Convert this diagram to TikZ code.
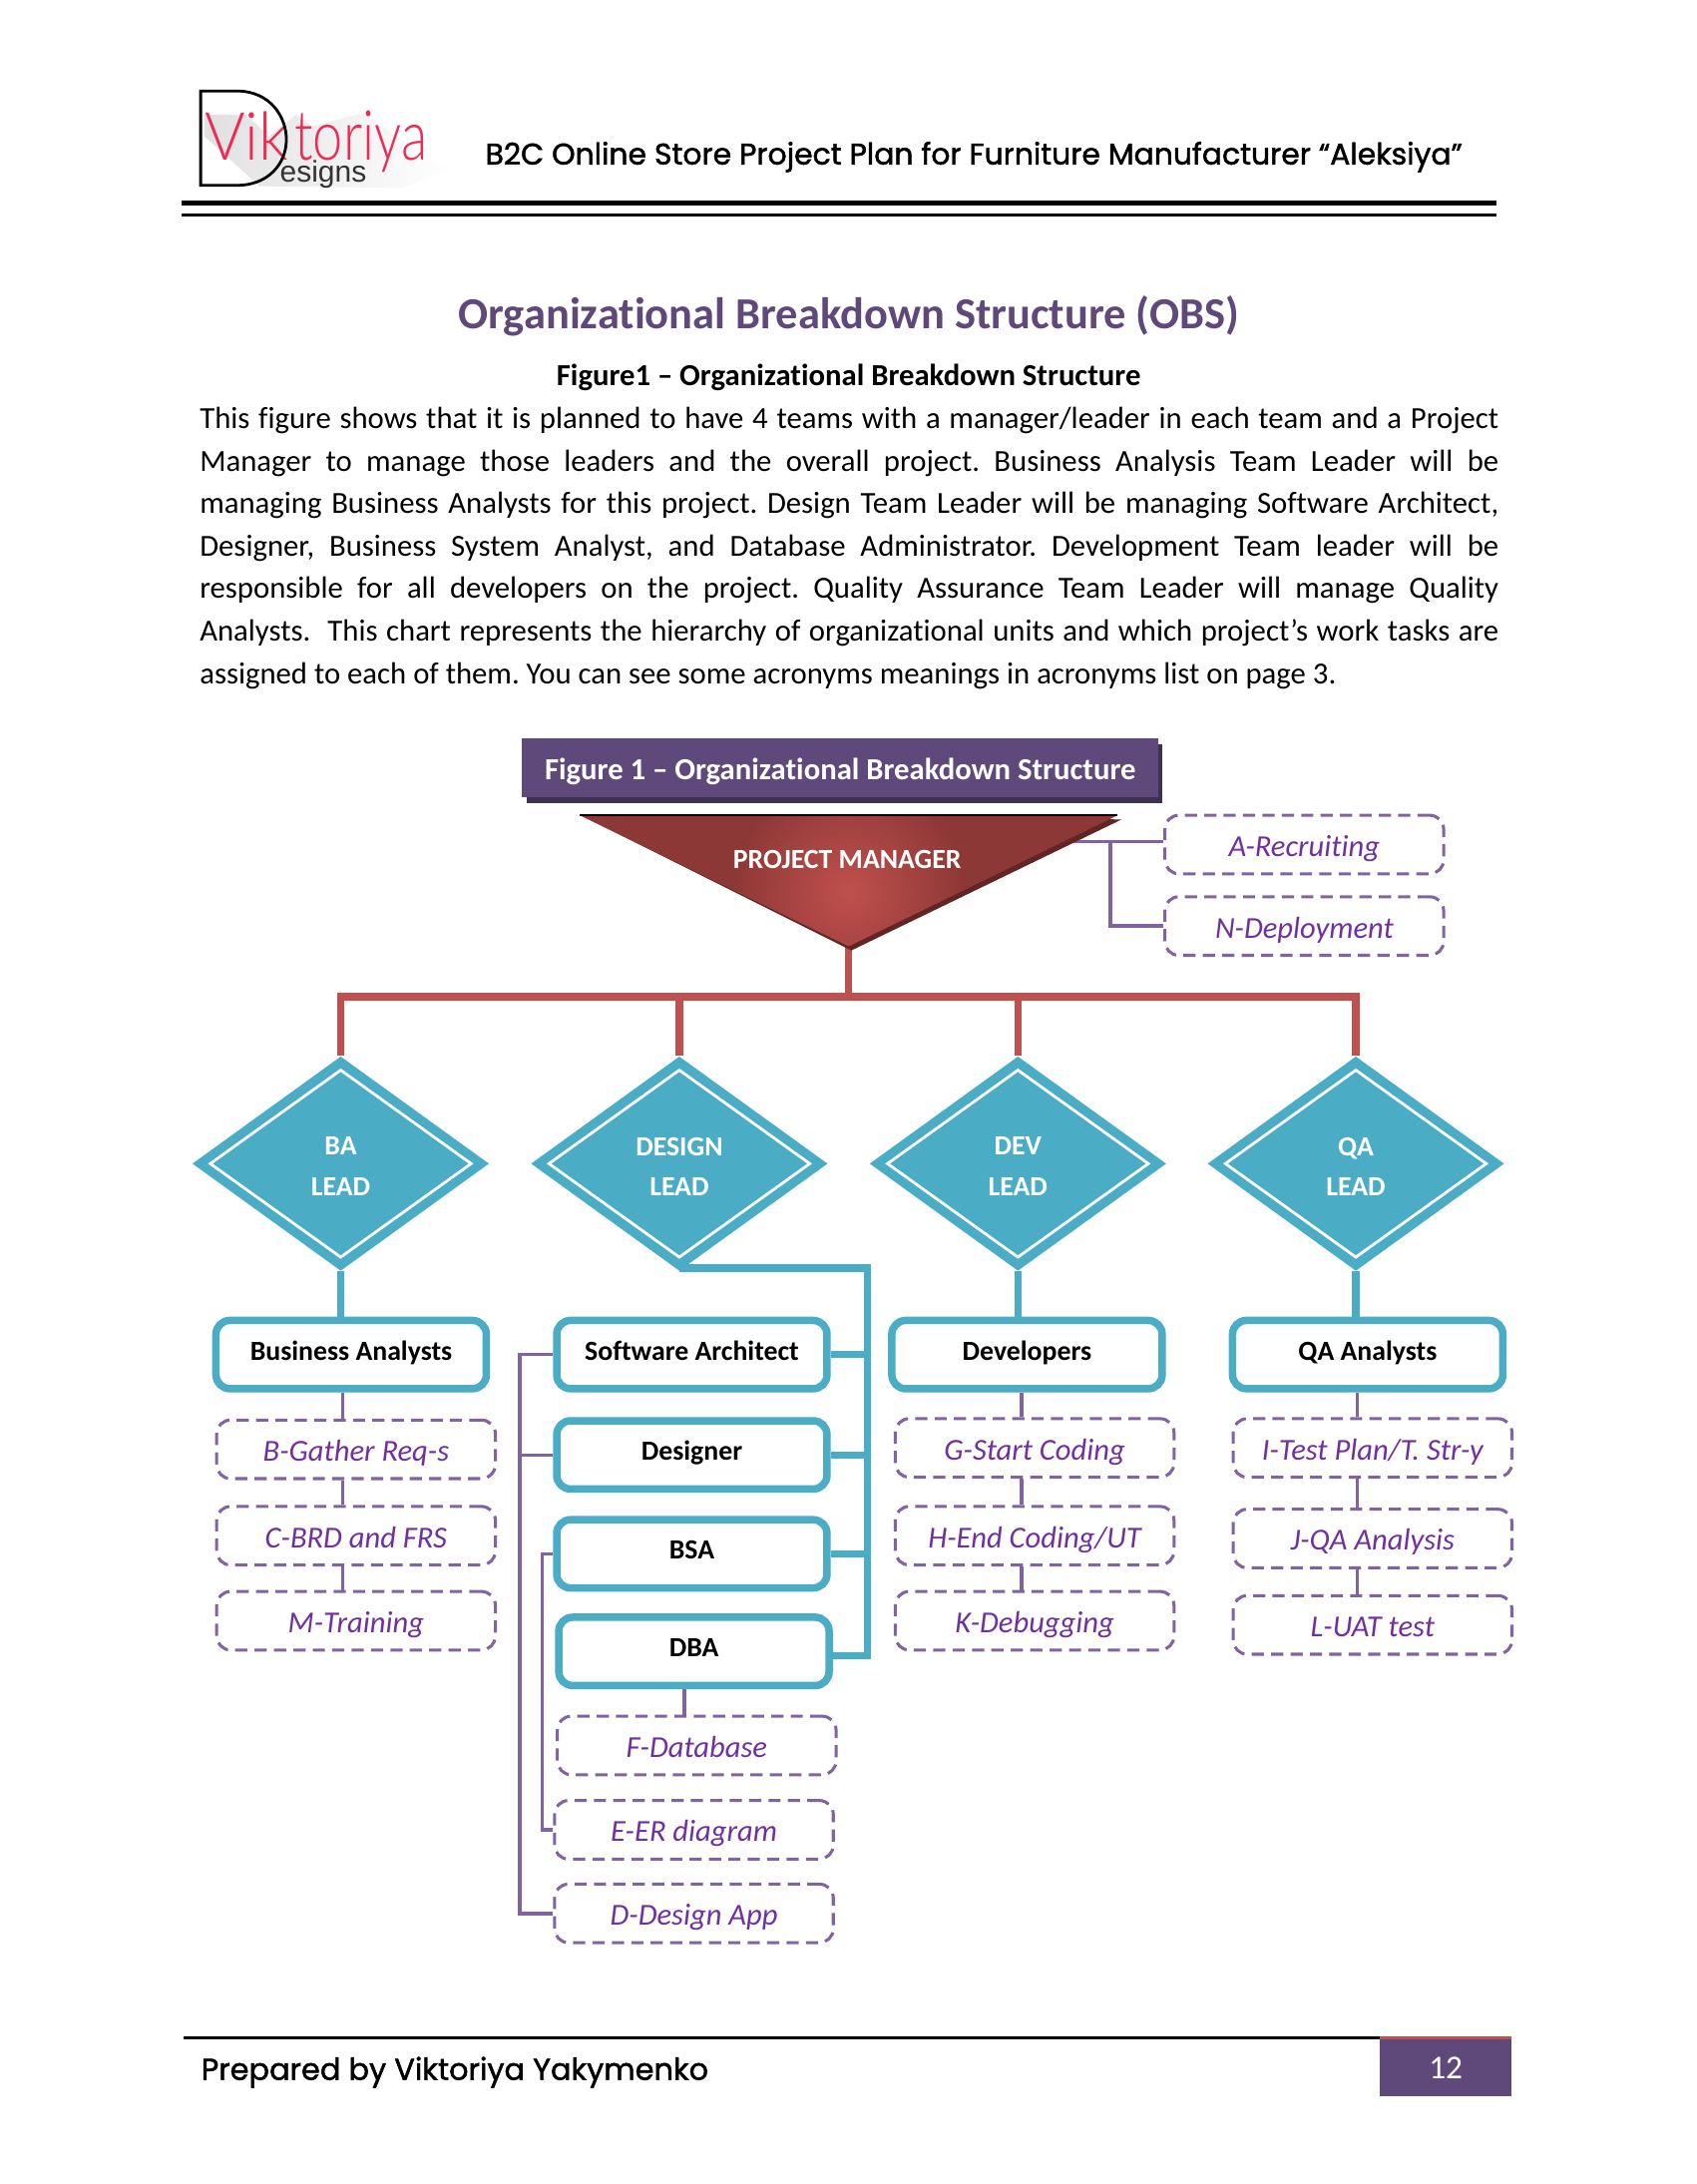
\documentclass[tikz,border=0pt]{standalone}
\usepackage{fontspec}
\setmainfont[Ligatures=NoCommon]{Carlito}
\newfontfamily\hdrf[FakeBold=1.5]{Poppins}
\newfontfamily\logof[FakeStretch=0.78]{Lato Light}
\newfontfamily\logov[FakeStretch=0.93]{Lato Light}
\newfontfamily\logoe{Liberation Sans}
\usetikzlibrary{shapes.geometric,backgrounds}
\definecolor{obspurple}{HTML}{5F497A}
\definecolor{obsdark}{HTML}{3F3151}
\definecolor{obsline}{HTML}{8064A2}
\definecolor{obstext}{HTML}{7030A0}
\definecolor{obsteal}{HTML}{4BACC6}
\definecolor{obsred}{HTML}{C0504D}
\definecolor{obsreddk}{HTML}{8C3836}
\definecolor{obsshadow}{HTML}{632523}
\definecolor{logored}{HTML}{EE2A55}
\tikzset{
  bw/.style={minimum width=#1*0.5028pt},
  bh/.style={minimum height=#1*0.5028pt},
  tealbox/.style={draw=obsteal,line width=2.7pt,fill=white,rounded corners=5pt,inner sep=0pt,bh=49,bw=194,
    text height=6.2pt,text depth=2.2pt,font=\fontsize{10}{12}\selectfont\bfseries,text=black},
  dashbox/.style={draw=obsline,line width=1.1pt,dash pattern=on 4.4pt off 2.6pt,rounded corners=5pt,inner sep=0pt,bh=42,bw=200,
    text height=10.8pt,text depth=2.2pt,font=\fontsize{11}{13}\selectfont\itshape,text=obstext},
  lead/.style={diamond,aspect=1,inner sep=0pt,bw=213,bh=154,fill=obsteal},
  leadin/.style={diamond,aspect=1,inner sep=0pt,bw=188,bh=135,draw=white,line width=1pt,fill=obsteal},
  leadtxt/.style={inner sep=0pt,font=\fontsize{10}{14.5pt}\selectfont\bfseries,text=white,align=center},
  tealline/.style={draw=obsteal,line width=2.6pt},
  redline/.style={draw=obsred,line width=2.6pt},
  purline/.style={draw=obsline,line width=1.25pt},
}
\begin{document}
\begin{tikzpicture}[x=0.5028pt,y=-0.5028pt]
\useasboundingbox (0,0) rectangle (1217.2,1567.2);
\begin{scope}[on background layer]
\fill[white] (0,0) rectangle (1217.2,1567.2);
\end{scope}

% logo
\shade[left color=black!12,middle color=black!7,right color=white] (146.8,82.3) -- (176.6,82.3) -- (193.3,97.8) -- (212.4,82.3) -- (224.3,90.7) -- (260.1,81.1) -- (298.3,107.4) -- (322.2,121.7) -- (288.8,134.8) -- (186.2,133.6) -- (146.8,97.8) -- cycle;
\node[anchor=base west,inner sep=0pt,text=logored,font=\logov\fontsize{24}{25}\selectfont] (logoa) at (146.5,115) {Vik};
\node[anchor=base west,inner sep=0pt,text=logored,font=\logof\fontsize{25}{25}\selectfont] (logob) at (211,115) {toriya};
\node[anchor=base west,inner sep=0pt,text=black!80,font=\logoe\fontsize{10.8}{12}\selectfont] (logoc) at (200.5,131) {esigns};
\draw[black,line width=1pt,line join=miter] (144,65.3) -- (170,65.3) .. controls (194,65.3) and (205.5,84) .. (205.5,100) .. controls (205.5,118) and (192,133) .. (170,133) -- (144,133) -- cycle;

% header
\node[anchor=base west,inner sep=0pt,font=\hdrf\fontsize{10.75}{13}\selectfont] (hdr) at (348,118) {B2C Online Store Project Plan for Furniture Manufacturer “Aleksiya”};
\fill[black] (130,143.7) rectangle (1074,147.5);
\fill[black] (130,153) rectangle (1074,155.4);

% titles
\node[inner sep=0pt,text=obspurple,font=\fontsize{16}{18}\selectfont\bfseries] (title) at (609,227) {Organizational Breakdown Structure (OBS)};
\node[inner sep=0pt,font=\fontsize{11.05}{13}\selectfont\bfseries] (capt) at (609,271) {Figure1 – Organizational Breakdown Structure};
\node[anchor=north west,inner sep=0pt,align=left,font=\fontsize{11.06}{15.32pt}\selectfont\frenchspacing] (body) at (143,292) {%
\makebox[468.7pt][s]{This figure shows that it is planned to have 4 teams with a manager/leader in each team and a Project}\\
\makebox[468.7pt][s]{Manager to manage those leaders and the overall project. Business Analysis Team Leader will be}\\
\makebox[468.7pt][s]{managing Business Analysts for this project. Design Team Leader will be managing Software Architect,}\\
\makebox[468.7pt][s]{Designer, Business System Analyst, and Database Administrator. Development Team leader will be}\\
\makebox[468.7pt][s]{responsible for all developers on the project. Quality Assurance Team Leader will manage Quality}\\
\makebox[468.7pt][s]{Analysts.\ \ This chart represents the hierarchy of organizational units and which project’s work tasks are}\\
assigned to each of them. You can see some acronyms meanings in acronyms list on page 3.};

% figure title bar
\fill[obsdark] (378,534) rectangle (834,576);
\node[fill=obspurple,inner sep=0pt,bw=457,bh=42,text height=10.8pt,text depth=2.2pt,text=white,font=\fontsize{11.05}{13}\selectfont\bfseries] (fig) at (603,551) {Figure 1 – Organizational Breakdown Structure};

% project manager
\fill[obsshadow] (417,585) -- (805,588) -- (611,682) -- cycle;
\begin{scope}
\clip (416,585) -- (802,585) -- (609,679) -- cycle;
\fill[obsreddk] (416,585) rectangle (802,679);
\shade[inner color=obsred,outer color=obsreddk] (609,640) circle (85);
\end{scope}
\draw[black,line width=0.5pt] (416,585) -- (802,585);
\node[inner sep=0pt,text=white,font=\fontsize{10}{13}\selectfont\bfseries] (pm) at (608,617) {PROJECT MANAGER};
\coordinate (pmtip) at (609,679);

% leaders
\foreach \n/\x/\t in {ba/244.5/BA,ds/487.5/DESIGN,dv/730.5/DEV,qa/973/QA}{
  \node[lead] (\n) at (\x,835) {};
  \node[leadin] (\n in) at (\x,835) {};
  \node[leadtxt] (\n txt) at (\x,837) {\t\\LEAD};
}

% team boxes
\node[tealbox] (baT) at (252,972) {Business Analysts};
\node[tealbox] (sa) at (496.5,972) {Software Architect};
\node[tealbox] (de) at (496.5,1044) {Designer};
\node[tealbox] (bs) at (496.5,1115) {BSA};
\node[tealbox] (db) at (498,1185) {DBA};
\node[tealbox] (dvT) at (737,972) {Developers};
\node[tealbox] (qaT) at (981.5,972) {QA Analysts};

% task boxes
\node[dashbox] (a) at (936,606) {A-Recruiting};
\node[dashbox] (n) at (936,664.5) {N-Deployment};
\node[dashbox] (b) at (255.5,1040) {B-Gather Req-s};
\node[dashbox] (c) at (255.5,1102) {C-BRD and FRS};
\node[dashbox] (m) at (255.5,1163) {M-Training};
\node[dashbox] (f) at (500,1252.5) {F-Database};
\node[dashbox] (e) at (498,1313) {E-ER diagram};
\node[dashbox] (d) at (498,1373) {D-Design App};
\node[dashbox] (g) at (742.5,1039) {G-Start Coding};
\node[dashbox] (h) at (742.5,1102) {H-End Coding/UT};
\node[dashbox] (k) at (742.5,1163) {K-Debugging};
\node[dashbox] (i) at (985,1039) {I-Test Plan/T. Str-y};
\node[dashbox] (j) at (985,1104) {J-QA Analysis};
\node[dashbox] (l) at (985,1166) {L-UAT test};

\coordinate (redbus) at (609,715);
\coordinate (dsbus) at (622.5,910);
\coordinate (busend) at (622.5,1188);
\coordinate (purbus) at (373,971);
\coordinate (purbusb) at (389,1114);
\coordinate (pmbus) at (797,604);

\begin{scope}[on background layer]
% red tree
\draw[redline,line width=2.3pt] (pmtip) -- (redbus);
\draw[redline,line width=2.85pt,line cap=rect] (ba.north |- redbus) -- (qa.north |- redbus);
\draw[redline] (ba.north) -- (ba.north |- redbus);
\draw[redline] (ds.north) -- (ds.north |- redbus);
\draw[redline] (dv.north) -- (dv.north |- redbus);
\draw[redline] (qa.north) -- (qa.north |- redbus);
% teal
\draw[tealline] (ba.south) -- (ba.south |- baT.north);
\draw[tealline] (dv.south) -- (dv.south |- dvT.north);
\draw[tealline] (qa.south) -- (qa.south |- qaT.north);
\draw[tealline,line join=miter] (ds.south |- dsbus) -- (dsbus) -- (busend) -- (busend -| db.east);
\draw[tealline] (sa.east) -- (sa.east -| dsbus);
\draw[tealline] (de.east) -- (de.east -| dsbus);
\draw[tealline] (bs.east) -- (bs.east -| dsbus);
% purple
\draw[purline] (a.west |- pmbus) -- (pm.east |- pmbus);
\draw[purline] (pmbus) -- (pmbus |- n.west) -- (n.west);
\draw[purline] (sa.west) -- (sa.west -| purbus) -- (purbus |- d.west) -- (d.west);
\draw[purline] (de.west) -- (de.west -| purbus);
\draw[purline] (bs.west) -- (bs.west -| purbusb) -- (purbusb |- e.west) -- (e.west);
\foreach \u/\v/\xx in {baT/b/246,b/c/246,c/m/246,dvT/g/733,g/h/733,h/k/733,qaT/i/974,i/j/974,j/l/974,db/f/491}{
  \draw[purline] (\u.south -| \xx,0) -- (\v.north -| \xx,0);
}
\end{scope}

% footer
\fill[black] (132,1461.4) rectangle (990,1463.6);
\fill[obspurple] (990,1463) rectangle (1085,1504.5);
\fill[obsred] (990,1461.4) rectangle (1085,1463.2);
\node[inner sep=0pt,text=white,font=\fontsize{12}{14}\selectfont] (pg) at (1037.5,1484) {12};
\node[anchor=base west,inner sep=0pt,font=\hdrf\fontsize{10.95}{14}\selectfont] (foot) at (144,1492.5) {Prepared by Viktoriya Yakymenko};
\end{tikzpicture}
\end{document}
